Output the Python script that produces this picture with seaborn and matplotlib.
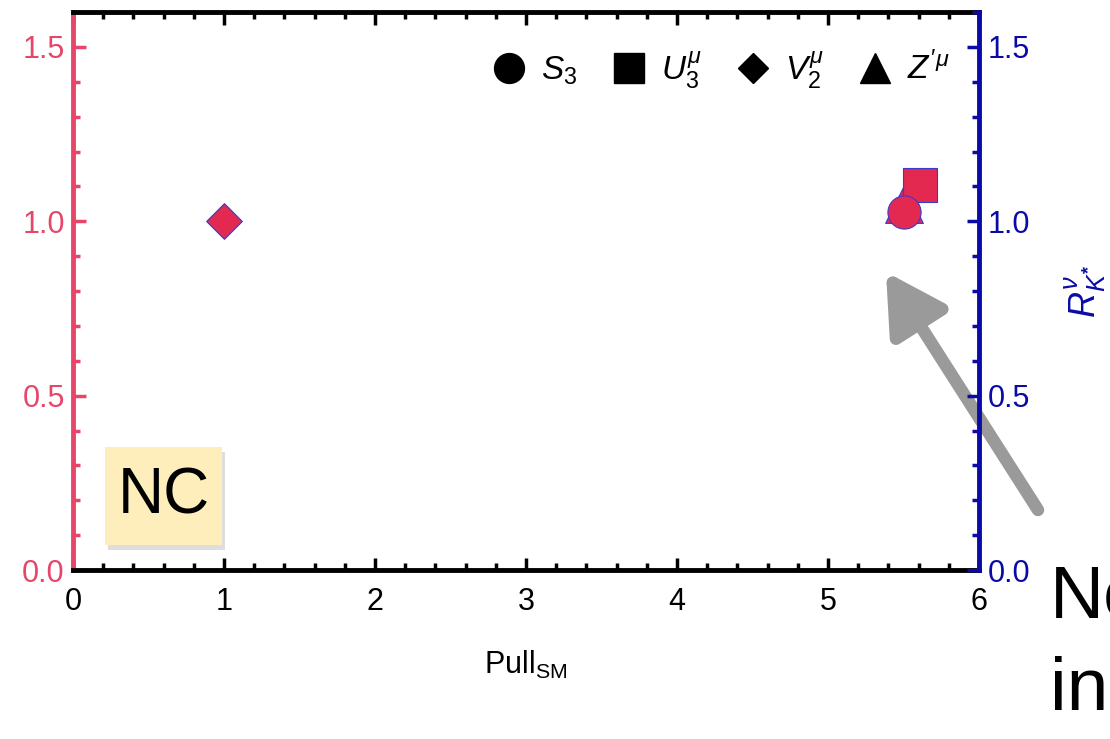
import matplotlib
matplotlib.use("Agg")
import matplotlib.pyplot as plt
from matplotlib.lines import Line2D
from matplotlib.patches import Rectangle
from matplotlib.ticker import MultipleLocator
import seaborn as sns
import pandas as pd

# ---- data ----
models = ["S3", "U3", "V2", "Zp"]
legend_labels = [r"$S_3$", r"$U_3^{\mu}$", r"$V_2^{\mu}$", r"$Z'^{\mu}$"]
markers = ["o", "s", "D", "^"]
pull_sm = [5.50, 5.61, 1.00, 5.50]
r_kstar = [1.026, 1.103, 1.00, 1.05]
x_ticks = [0, 1, 2, 3, 4, 5, 6]
y_ticks = [0.0, 0.5, 1.0, 1.5]

df = pd.DataFrame({"model": models, "pull": pull_sm, "r": r_kstar, "marker": markers})

sns.set_style("ticks")
plt.rcParams["font.family"] = ["Liberation Sans", "DejaVu Sans"]
plt.rcParams["mathtext.fontset"] = "custom"
plt.rcParams["mathtext.rm"] = "Liberation Sans"
plt.rcParams["mathtext.it"] = "Liberation Sans:italic"
plt.rcParams["mathtext.bf"] = "Liberation Sans:bold"
plt.rcParams["text.color"] = "black"

RED = "#e3294f"
RED_AX = "#e8456a"
BLUE = "#0a0aa8"
FS = 22

fig = plt.figure(figsize=(11.10, 7.39), dpi=100)
ax = fig.add_axes([73 / 1110, 1 - 570 / 739, (979 - 73) / 1110, (570 - 12) / 739])

sizes = {"o": 570, "s": 600, "D": 330, "^": 740}
order = ["Zp", "U3", "S3", "V2"]
for m in order:
    sub = df[df["model"] == m]
    mk = sub["marker"].iloc[0]
    sns.scatterplot(data=sub, x="pull", y="r", marker=mk, s=sizes[mk],
                    color=RED, edgecolor="#3a3ad0", linewidth=0.8, ax=ax,
                    legend=False, zorder=3, clip_on=False)

ax.set_xlim(0, 6)
ax.set_ylim(0, 1.6)
ax.set_xticks(x_ticks)
ax.set_yticks(y_ticks)
ax.set_yticklabels([f"{v:.1f}" for v in y_ticks])
ax.xaxis.set_minor_locator(MultipleLocator(0.2))
ax.yaxis.set_minor_locator(MultipleLocator(0.1))

for s in ["top", "bottom"]:
    ax.spines[s].set_color("black")
    ax.spines[s].set_linewidth(3.5)
ax.spines["left"].set_color(RED_AX)
ax.spines["left"].set_linewidth(3.5)
ax.spines["right"].set_visible(False)

ax.tick_params(axis="x", which="both", direction="in", top=True, bottom=True,
               color="black", labelcolor="black", labelsize=FS, pad=12)
ax.tick_params(axis="x", which="major", length=9, width=2.5)
ax.tick_params(axis="x", which="minor", length=5, width=2.5)
ax.tick_params(axis="y", which="both", direction="in", left=True, right=False,
               color=RED_AX, labelcolor=RED_AX, labelsize=FS, pad=6)
ax.tick_params(axis="y", which="major", length=9, width=2.5)
ax.tick_params(axis="y", which="minor", length=5, width=2.5)

ax.set_xlabel(r"Pull$_{\mathrm{SM}}$", fontsize=FS, labelpad=23, color="black")
ax.set_ylabel("")

ax2 = ax.twinx()
ax2.set_ylim(0, 1.6)
ax2.set_yticks(y_ticks)
ax2.set_yticklabels([f"{v:.1f}" for v in y_ticks])
ax2.yaxis.set_minor_locator(MultipleLocator(0.1))
for s in ["top", "bottom", "left"]:
    ax2.spines[s].set_visible(False)
ax2.spines["right"].set_color(BLUE)
ax2.spines["right"].set_linewidth(3.5)
ax2.tick_params(axis="y", which="both", direction="in", color=BLUE,
                labelcolor=BLUE, labelsize=FS, pad=6)
ax2.tick_params(axis="y", which="major", length=9, width=2.5)
ax2.tick_params(axis="y", which="minor", length=5, width=2.5)
ax2.set_ylabel(r"$R^{\nu}_{K^{\mathbf{*}}}$", color=BLUE, fontsize=26)
ax2.yaxis.set_label_coords(1.117, 0.5)
ax2.yaxis.label.set_horizontalalignment("center")
ax2.yaxis.label.set_verticalalignment("center")

# legend
handles = [Line2D([], [], marker=mk, linestyle="none", color="black",
                  markersize={"o": 21.5, "s": 21.5, "D": 15.5, "^": 21.5}[mk])
           for mk in markers]
ax.legend(handles, legend_labels, loc="center right", ncol=4, frameon=False,
          fontsize=24, handletextpad=0.45, columnspacing=1.05, handlelength=1.0,
          bbox_to_anchor=(0.968, 0.896), borderaxespad=0.0, borderpad=0.0)

# NC box with shadow
ax.add_patch(Rectangle((0.039, 0.036), 0.129, 0.175, transform=ax.transAxes,
                       facecolor="#c8c8c8", edgecolor="none", alpha=0.6, zorder=4,
                       clip_on=False))
ax.add_patch(Rectangle((0.0353, 0.0448), 0.129, 0.1756, transform=ax.transAxes,
                       facecolor="#fdeebb", edgecolor="none", zorder=5, clip_on=False))
ax.text(0.0353 + 0.129 / 2, 0.0448 + 0.1756 / 2, "NC", transform=ax.transAxes,
        ha="center", va="center", fontsize=46, color="black", zorder=6)

# gray arrow (outside-axes annotation)
ax.annotate("", xy=(886, 739 - 272), xycoords="figure pixels",
            xytext=(1038, 739 - 510), textcoords="figure pixels",
            arrowprops=dict(arrowstyle="-|>,head_length=1.6,head_width=0.9",
                            color="#9a9a9a", lw=9, mutation_scale=22,
                            shrinkA=0, shrinkB=0),
            annotation_clip=False, zorder=7)

# slide text at right, cut by the image edge
for txt, base in [("No", 618), ("in", 710)]:
    fig.text(1050 / 1110, 1 - base / 739, txt, fontsize=54, color="black",
             ha="left", va="baseline")

fig.savefig("out.png", dpi=100)
